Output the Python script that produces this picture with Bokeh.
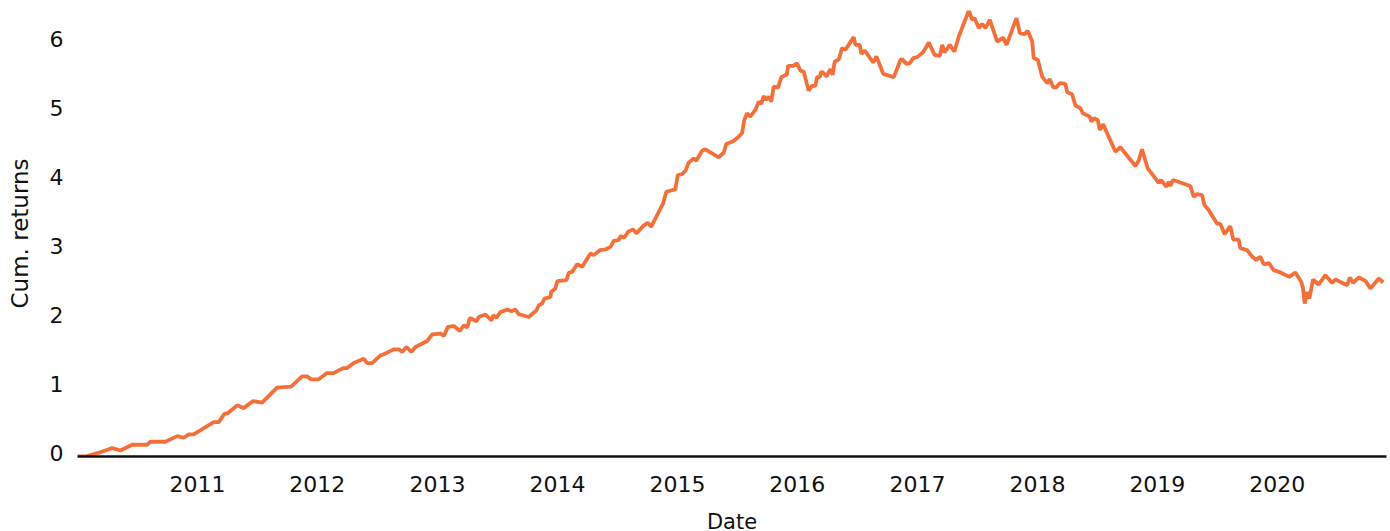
from datetime import datetime, timedelta
import math
from bokeh.plotting import figure
from bokeh.models import ColumnDataSource, Range1d, FixedTicker, DatetimeTickFormatter
from bokeh.embed import file_html
from bokeh.resources import INLINE

# Dates as decimal years
date_years = [
    2010.000, 2010.067, 2010.164, 2010.289, 2010.358, 2010.456, 2010.581, 2010.608, 2010.733, 2010.831,
    2010.886, 2010.928, 2010.969, 2011.136, 2011.178, 2011.225, 2011.248, 2011.331, 2011.386, 2011.464,
    2011.539, 2011.664, 2011.781, 2011.873, 2011.914, 2011.948, 2012.011,
    2012.081, 2012.136, 2012.178, 2012.219, 2012.248, 2012.303, 2012.386, 2012.414, 2012.456, 2012.525,
    2012.553, 2012.636, 2012.678, 2012.706, 2012.742, 2012.781, 2012.817, 2012.914, 2012.956, 2013.025,
    2013.053, 2013.086, 2013.136, 2013.186, 2013.219, 2013.248, 2013.269, 2013.325, 2013.344, 2013.400,
    2013.450, 2013.464, 2013.492, 2013.525, 2013.581, 2013.617, 2013.650, 2013.678, 2013.761, 2013.825,
    2013.844, 2013.872, 2013.892, 2013.942, 2013.946, 2013.983, 2013.998, 2014.075, 2014.094, 2014.122,
    2014.164, 2014.206,
    2014.275, 2014.303, 2014.353, 2014.400, 2014.442, 2014.469, 2014.511, 2014.525, 2014.558, 2014.589,
    2014.631, 2014.658, 2014.714, 2014.753, 2014.781, 2014.831, 2014.881, 2014.908, 2014.983, 2015.003,
    2015.039, 2015.067, 2015.094, 2015.136, 2015.158, 2015.206, 2015.233, 2015.344, 2015.386, 2015.408,
    2015.469, 2015.511, 2015.539, 2015.558, 2015.581, 2015.608, 2015.650, 2015.678, 2015.700, 2015.719,
    2015.739, 2015.761, 2015.783, 2015.803, 2015.839, 2015.867, 2015.914, 2015.923, 2015.969, 2015.998,
    2016.025, 2016.053,
    2016.094, 2016.122, 2016.150, 2016.164, 2016.186, 2016.200, 2016.225, 2016.242, 2016.275, 2016.294,
    2016.311, 2016.344, 2016.372, 2016.400, 2016.469, 2016.483, 2016.519, 2016.533, 2016.561, 2016.631,
    2016.658, 2016.686, 2016.714, 2016.803, 2016.858, 2016.872, 2016.908, 2016.936, 2016.964, 2016.997,
    2017.047, 2017.094, 2017.142, 2017.186, 2017.206, 2017.225, 2017.269, 2017.308, 2017.344, 2017.428,
    2017.456, 2017.475, 2017.511, 2017.539, 2017.567, 2017.603, 2017.664, 2017.714, 2017.742, 2017.825,
    2017.853, 2017.892, 2017.919, 2017.956, 2017.969, 2018.003, 2018.039,
    2018.081, 2018.103, 2018.131, 2018.158, 2018.186, 2018.233, 2018.248, 2018.289, 2018.317, 2018.358,
    2018.378, 2018.436, 2018.450, 2018.469, 2018.503, 2018.519, 2018.548, 2018.594, 2018.650, 2018.692,
    2018.817, 2018.844, 2018.872, 2018.919, 2018.969, 2019.011, 2019.031, 2019.075, 2019.094, 2019.108,
    2019.131, 2019.275, 2019.303, 2019.331, 2019.373, 2019.392, 2019.428, 2019.497, 2019.525, 2019.561,
    2019.608, 2019.633, 2019.678, 2019.692, 2019.748, 2019.789, 2019.825, 2019.858, 2019.889, 2019.932,
    2019.969, 2020.022, 2020.100,
    2020.150, 2020.200, 2020.214, 2020.228, 2020.248, 2020.267, 2020.297, 2020.344, 2020.400, 2020.456,
    2020.483, 2020.581, 2020.603, 2020.631, 2020.678, 2020.733, 2020.775, 2020.844, 2020.881,
]

cum_returns = [
    -0.054, -0.054, -0.006, 0.067, 0.033, 0.116, 0.116, 0.160, 0.160, 0.241,
    0.218, 0.266, 0.266, 0.444, 0.444, 0.566, 0.566, 0.687, 0.647, 0.749,
    0.726, 0.943, 0.958, 1.107, 1.107, 1.064, 1.064,
    1.155, 1.155, 1.194, 1.228, 1.228, 1.300, 1.364, 1.300, 1.300, 1.412,
    1.427, 1.499, 1.499, 1.460, 1.533, 1.460, 1.533, 1.620, 1.717, 1.727,
    1.692, 1.823, 1.837, 1.765, 1.848, 1.814, 1.954, 1.906, 1.968, 2.003,
    1.920, 1.993, 1.959, 2.041, 2.075, 2.051, 2.075, 2.007, 1.968, 2.065,
    2.138, 2.163, 2.235, 2.258, 2.331, 2.380, 2.486, 2.501, 2.607, 2.621,
    2.733, 2.694,
    2.888, 2.864, 2.936, 2.946, 2.984, 3.071, 3.081, 3.139, 3.120, 3.202,
    3.237, 3.179, 3.284, 3.332, 3.274, 3.444, 3.614, 3.782, 3.817, 4.025,
    4.039, 4.087, 4.203, 4.267, 4.232, 4.377, 4.398, 4.282, 4.348, 4.475,
    4.518, 4.581, 4.630, 4.823, 4.920, 4.871, 4.968, 5.089, 5.055, 5.171,
    5.113, 5.161, 5.089, 5.306, 5.292, 5.443, 5.486, 5.607, 5.607, 5.646,
    5.538, 5.524,
    5.248, 5.316, 5.316, 5.443, 5.443, 5.524, 5.491, 5.451, 5.559, 5.476,
    5.669, 5.694, 5.864, 5.839, 6.023, 5.911, 5.911, 5.781, 5.829, 5.655,
    5.742, 5.621, 5.491, 5.443, 5.694, 5.704, 5.636, 5.646, 5.718, 5.733,
    5.806, 5.945, 5.766, 5.752, 5.911, 5.800, 5.911, 5.814, 6.032, 6.409,
    6.274, 6.299, 6.154, 6.212, 6.154, 6.274, 5.959, 6.017, 5.911, 6.299,
    6.081, 6.067, 6.115, 5.959, 5.718, 5.694, 5.451,
    5.356, 5.414, 5.297, 5.297, 5.356, 5.345, 5.225, 5.196, 5.030, 4.993,
    4.920, 4.871, 4.798, 4.848, 4.823, 4.678, 4.761, 4.581, 4.363, 4.427,
    4.155, 4.232, 4.398, 4.122, 4.010, 3.913, 3.952, 3.855, 3.927, 3.865,
    3.952, 3.865, 3.710, 3.749, 3.734, 3.589, 3.517, 3.324, 3.314, 3.168,
    3.284, 3.089, 3.089, 2.965, 2.936, 2.845, 2.794, 2.842, 2.729, 2.747,
    2.646, 2.617, 2.549,
    2.612, 2.476, 2.380, 2.163, 2.331, 2.235, 2.511, 2.438, 2.573, 2.462,
    2.511, 2.428, 2.540, 2.462, 2.540, 2.491, 2.380, 2.525, 2.467,
]

year_ticks = [2011, 2012, 2013, 2014, 2015, 2016, 2017, 2018, 2019, 2020]
y_ticks = [0, 1, 2, 3, 4, 5, 6]


def to_date(y):
    yr = int(math.floor(y))
    start = datetime(yr, 1, 1)
    ndays = (datetime(yr + 1, 1, 1) - start).days
    return start + timedelta(days=(y - yr) * ndays)


dates = [to_date(y) for y in date_years]
src = ColumnDataSource(data=dict(date=dates, value=cum_returns))

x_start = dates[0]
x_end = dates[-1] + timedelta(days=10)

p = figure(
    x_axis_type="datetime",
    frame_width=1309, frame_height=446,
    min_border_left=77, min_border_right=4, min_border_top=10, min_border_bottom=0,
    output_backend="svg", toolbar_location=None,
    x_range=Range1d(x_start, x_end),
    y_range=Range1d(min(cum_returns), max(cum_returns)),
)

p.line("date", "value", source=src, line_color="#F3703A", line_width=3.8)

p.grid.grid_line_color = None
p.outline_line_color = None
p.background_fill_color = "white"
p.border_fill_color = "white"

font = "DejaVu Sans"
tick_ms = [datetime(y, 1, 1).timestamp() * 1000 for y in year_ticks]
p.xaxis.ticker = FixedTicker(ticks=tick_ms)
p.xaxis.formatter = DatetimeTickFormatter(years="%Y", months="%Y", days="%Y", hours="%Y")
p.yaxis.ticker = FixedTicker(ticks=y_ticks)

for ax in (p.xaxis[0], p.yaxis[0]):
    ax.major_tick_line_color = None
    ax.minor_tick_line_color = None
    ax.major_tick_out = 0
    ax.major_tick_in = 0
    ax.major_label_text_font = font
    ax.major_label_text_font_size = "22px"
    ax.major_label_text_color = "#111111"
    ax.axis_label_text_font = font
    ax.axis_label_text_font_size = "21px"
    ax.axis_label_text_font_style = "normal"
    ax.axis_label_text_color = "#111111"

p.yaxis.axis_label_text_font_size = "23px"
p.xaxis.axis_label = "Date"
p.yaxis.axis_label = "Cum. returns"
p.xaxis.axis_line_color = "#111111"
p.xaxis.axis_line_width = 2.5
p.yaxis.axis_line_color = None
p.xaxis.major_label_standoff = 19
p.xaxis.axis_label_standoff = 15
p.yaxis.major_label_standoff = 14
p.yaxis.axis_label_standoff = 14

open("out.html", "w").write(file_html(p, INLINE))
